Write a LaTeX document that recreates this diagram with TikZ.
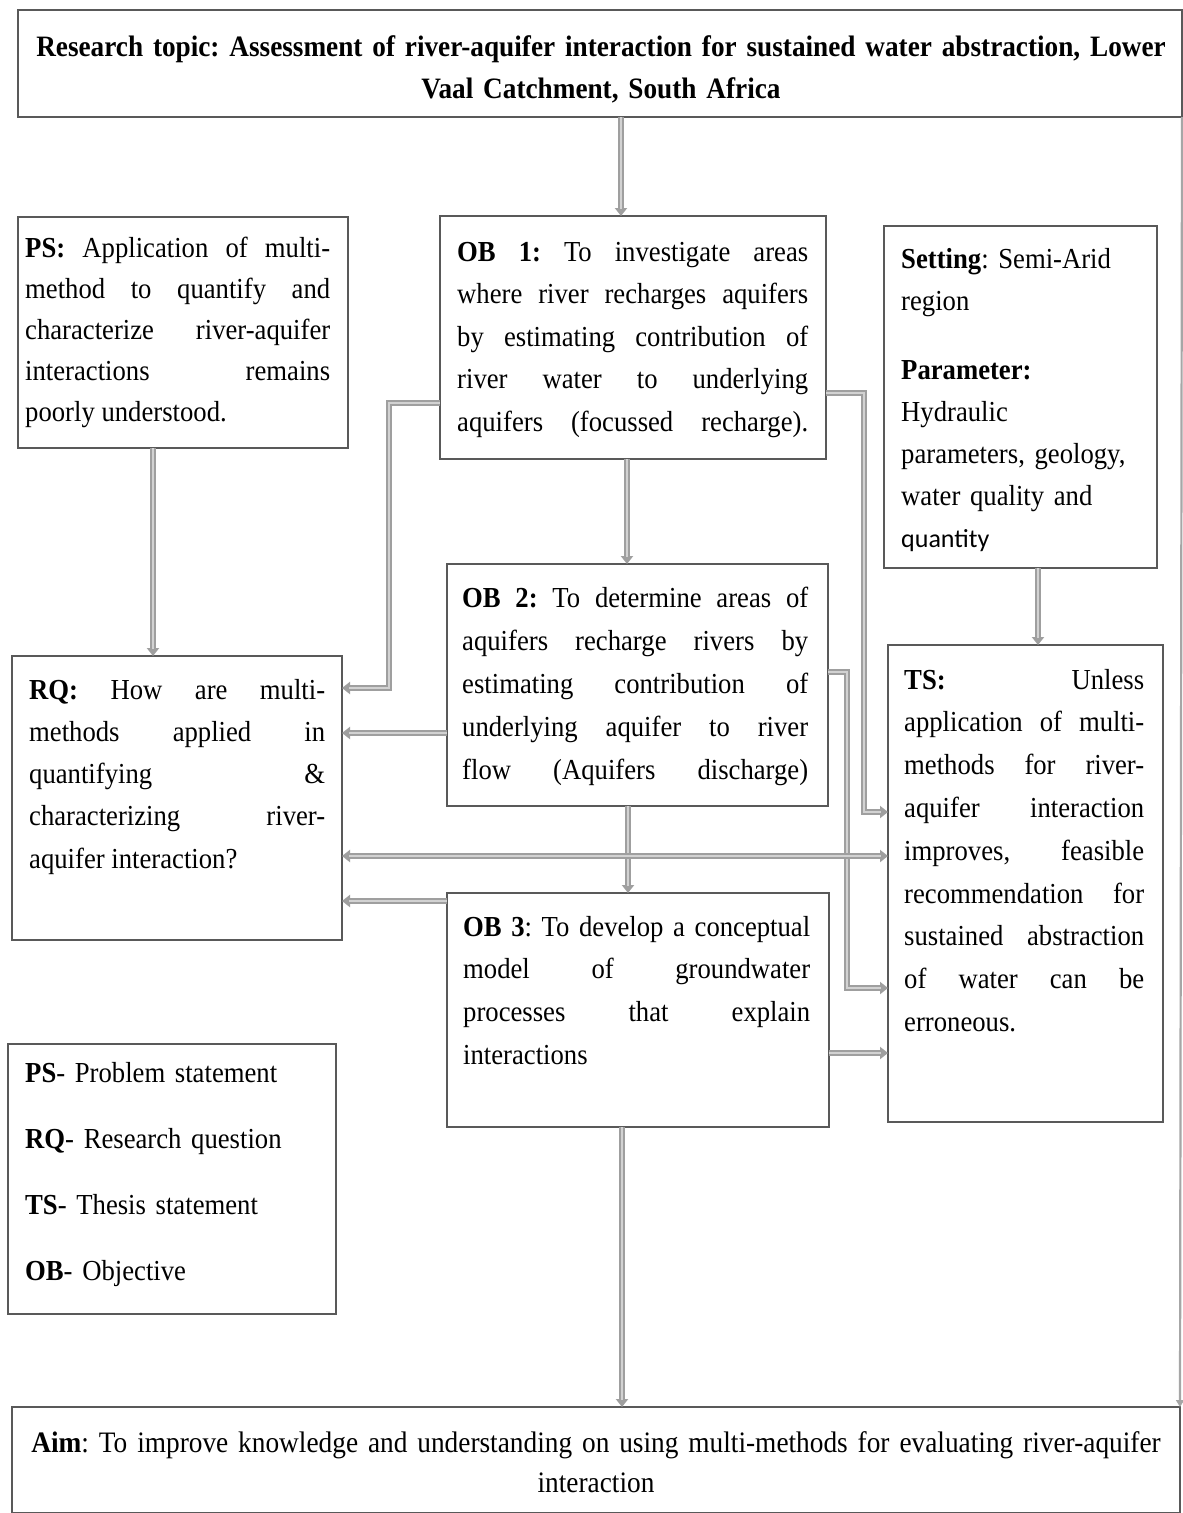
\documentclass[tikz,border=0pt]{standalone}
\usepackage{fontspec}
\setmainfont{Liberation Serif}[FakeStretch=0.92]
\newfontfamily\calib{Carlito}
\usetikzlibrary{arrows.meta}
\begin{document}
\frenchspacing
\tolerance=10000
\hbadness=10000
\begin{tikzpicture}[x=1pt,y=-1pt,
  box/.style={draw=black!65, line width=1.8pt, anchor=north west, inner sep=0pt, outer sep=0pt},
  txt/.style={anchor=base west, inner sep=0pt, align=justify, font=\fontsize{29}{42.5}\selectfont},
  conn/.style={draw=gray!75, line width=5.5pt, -{Triangle[length=8pt,width=12pt]},
     postaction={draw=gray!35, line width=1.6pt, arrows=-, shorten >=7pt}},
  conn2/.style={draw=gray!75, line width=5.5pt, {Triangle[length=8pt,width=12pt]}-{Triangle[length=8pt,width=12pt]},
     postaction={draw=gray!35, line width=1.6pt, arrows=-, shorten >=7pt, shorten <=7pt}},
  thin/.style={draw=gray!70, line width=2.2pt, -{Triangle[length=7pt,width=8pt]}}]
\useasboundingbox (0,0) rectangle (1183,1513);
\fill[white] (0,0) rectangle (1183,1513);

% boxes
\node[box, minimum width=1164, minimum height=107] (top) at (18,10) {};
\node[box, minimum width=330, minimum height=231] (ps) at (18,217) {};
\node[box, minimum width=386, minimum height=243] (ob1) at (440,216) {};
\node[box, minimum width=273, minimum height=342] (set) at (884,226) {};
\node[box, minimum width=381, minimum height=242] (ob2) at (447,564) {};
\node[box, minimum width=330, minimum height=284] (rq) at (12,656) {};
\node[box, minimum width=275, minimum height=477] (ts) at (888,645) {};
\node[box, minimum width=382, minimum height=234] (ob3) at (447,893) {};
\node[box, minimum width=328, minimum height=270] (leg) at (8,1044) {};
\node[box, minimum width=1168, minimum height=106] (aim) at (12,1407) {};

% texts
\node[txt, anchor=base, text width=1160, align=center, font=\fontsize{29.6}{42}\selectfont] (toptxt) at (601,56)
  {\textbf{Research topic: Assessment of river-aquifer interaction for sustained water abstraction, Lower}\\
   \textbf{Vaal Catchment, South Africa}};
\node[txt, text width=305, font=\fontsize{29}{41}\selectfont] (pstxt) at (25,257)
  {\textbf{PS:} Application of multi-\linebreak method to quantify and\linebreak characterize river-aquifer\linebreak interactions remains\linebreak poorly understood.};
\node[txt, text width=351] (ob1txt) at (457,261)
  {\textbf{OB 1:} To investigate areas\linebreak where river recharges aquifers\linebreak by estimating contribution of\linebreak river water to underlying\linebreak aquifers (focussed recharge).\parfillskip=0pt\par};
\node[txt, text width=260, align=left, font=\fontsize{29}{42}\selectfont] (settxt) at (901,268)
  {\textbf{Setting}: Semi-Arid\\region\\[27pt]\textbf{Parameter:}\\Hydraulic\\parameters, geology,\\water quality and\\{\calib\fontsize{26}{42}\selectfont quantity}};
\node[txt, text width=346, font=\fontsize{29}{43}\selectfont] (ob2txt) at (462,607)
  {\textbf{OB 2:} To determine areas of\linebreak aquifers recharge rivers by\linebreak estimating contribution of\linebreak underlying aquifer to river\linebreak flow (Aquifers discharge)\parfillskip=0pt\par};
\node[txt, text width=296, font=\fontsize{29}{42.3}\selectfont] (rqtxt) at (29,699)
  {\textbf{RQ:} How are multi-\linebreak methods applied in\linebreak quantifying \&\linebreak characterizing river-\linebreak aquifer interaction?};
\node[txt, text width=240, font=\fontsize{29}{42.8}\selectfont] (tstxt) at (904,689)
  {\textbf{TS:} Unless\linebreak application of multi-\linebreak methods for river-\linebreak aquifer interaction\linebreak improves, feasible\linebreak recommendation for\linebreak sustained abstraction\linebreak of water can be\linebreak erroneous.};
\node[txt, text width=347, font=\fontsize{29}{42.7}\selectfont] (ob3txt) at (463,936)
  {\textbf{OB 3}: To develop a conceptual\linebreak model of groundwater\linebreak processes that explain\linebreak interactions};
\node[txt, text width=300, align=left, font=\fontsize{29}{66.3}\selectfont] (legtxt) at (25,1082)
  {\textbf{PS}- Problem statement\\\textbf{RQ}- Research question\\\textbf{TS}- Thesis statement\\\textbf{OB}- Objective};
\node[txt, anchor=base, text width=1160, align=center, font=\fontsize{29.7}{40}\selectfont] (aimtxt) at (596,1452)
  {\textbf{Aim}: To improve knowledge and understanding on using multi-methods for evaluating river-aquifer\\interaction};

% connectors
\draw[conn] (621,117) -- (ob1.north -| 621,0);
\draw[conn] (ob1.south -| 627,0) -- (ob2.north -| 627,0);
\draw[conn] (ob2.south -| 628,0) -- (ob3.north -| 628,0);
\draw[conn] (ob3.south -| 622,0) -- (aim.north -| 622,0);
\draw[conn] (set.south -| 1038,0) -- (ts.north -| 1038,0);
\draw[conn] (ps.south -| 153,0) -- (rq.north -| 153,0);
\draw[conn] (ob1.west |- 0,403) -- (389,403) -- (389,688) -- (rq.east |- 0,688);
\draw[conn] (ob1.east |- 0,393) -- (864,393) -- (864,812) -- (ts.west |- 0,812);
\draw[conn] (ob2.east |- 0,672) -- (847,672) -- (847,988) -- (ts.west |- 0,988);
\draw[conn] (ob2.west |- 0,733) -- (rq.east |- 0,733);
\draw[conn2] (rq.east |- 0,856) -- (ts.west |- 0,856);
\draw[conn] (ob3.west |- 0,901) -- (rq.east |- 0,901);
\draw[conn] (ob3.east |- 0,1053) -- (ts.west |- 0,1053);
\draw[thin] (top.south east) -- (aim.north east);
\end{tikzpicture}
\end{document}
